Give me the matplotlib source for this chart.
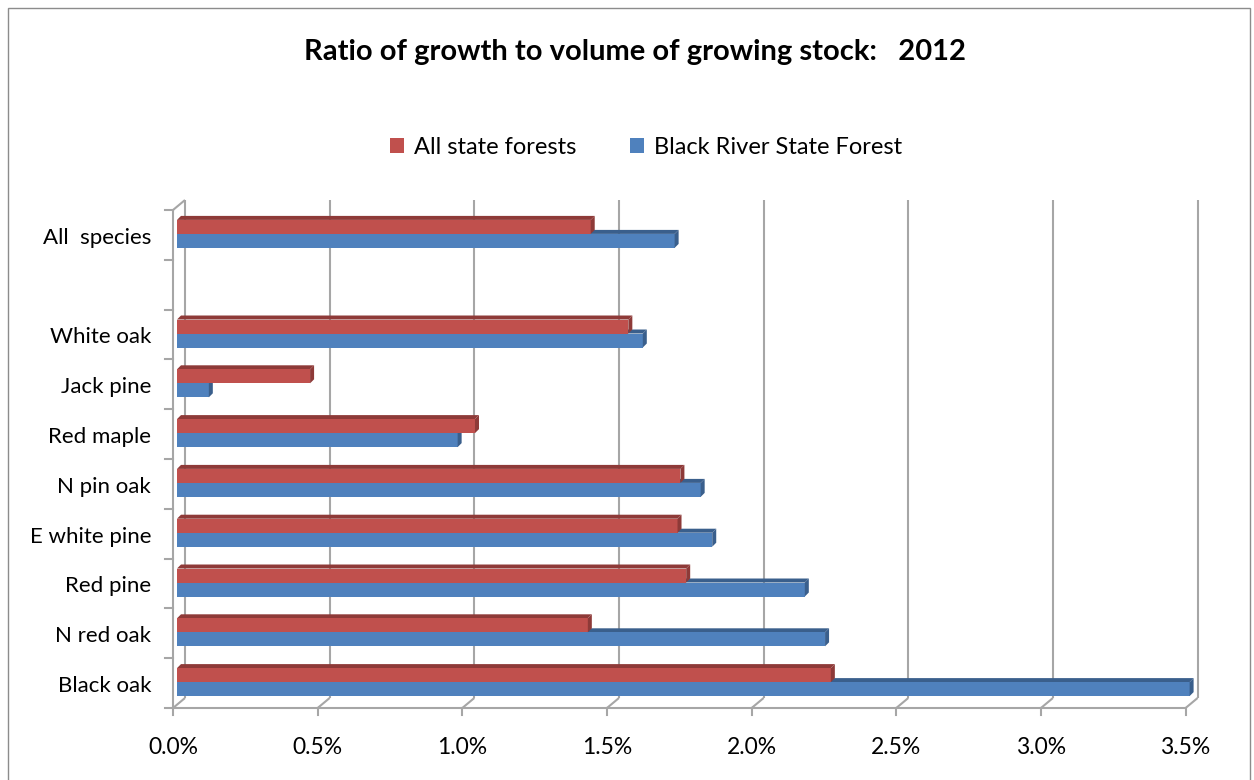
import matplotlib.pyplot as plt
from matplotlib.patches import Polygon, Patch, Rectangle

# species listed bottom to top; blank slot separates the overall figure
categories = ["Black oak", "N red oak", "Red pine", "E white pine", "N pin oak",
              "Red maple", "Jack pine", "White oak", "", "All  species"]
all_state = [2.26, 1.42, 1.76, 1.73, 1.74, 1.03, 0.46, 1.56, None, 1.43]
black_river = [3.50, 2.24, 2.17, 1.85, 1.81, 0.97, 0.11, 1.61, None, 1.72]
x_ticks = [0.0, 0.5, 1.0, 1.5, 2.0, 2.5, 3.0, 3.5]
x_labels = ["0.0%", "0.5%", "1.0%", "1.5%", "2.0%", "2.5%", "3.0%", "3.5%"]

RED, RED_DARK = "#C0504D", "#8E3A38"
BLUE, BLUE_DARK = "#4F81BD", "#3A5F8C"
GRID = "#A6A6A6"
FONT = "Lato"

W, H = 1254, 780
fig = plt.figure(figsize=(W / 100, H / 100), dpi=100)
x0, x1, ytop, ybot = 173, 1185.6, 210, 708
ax = fig.add_axes([x0 / W, 1 - ybot / H, (x1 - x0) / W, (ybot - ytop) / H])
ax.set_xlim(0, 3.5)
ax.set_ylim(-0.5, 9.5)
ax.axis("off")

px_x = 3.5 / (x1 - x0)          # data units per pixel
px_y = 10 / (ybot - ytop)
wall_dx, wall_dy = 12 * px_x, 10 * px_y   # back wall depth
bar_dx, bar_dy = 4 * px_x, 4 * px_y       # bar depth
bar_x0 = 4 * px_x
bar_h = 14 * px_y

def line(xs, ys):
    ax.plot(xs, ys, color=GRID, lw=1.5, clip_on=False, solid_capstyle="butt", zorder=1)

# back wall gridlines and floor edges
for v in x_ticks:
    line([v + wall_dx, v + wall_dx], [-0.5 + wall_dy, 9.5 + wall_dy])
    line([v, v + wall_dx], [-0.5, -0.5 + wall_dy])
line([0, 0], [-0.5, 9.5])
line([0, wall_dx], [9.5, 9.5 + wall_dy])
line([0, 3.5], [-0.5, -0.5])

# tick marks
for v in x_ticks:
    ax.plot([v, v], [-0.5, -0.5 - 7 * px_y], color=GRID, lw=1.5, clip_on=False)
for k in range(11):
    ax.plot([0, -8 * px_x], [k - 0.5, k - 0.5], color=GRID, lw=1.5, clip_on=False)

def bar3d(val, yb, face, dark):
    xs, xe = bar_x0, bar_x0 + val
    yt = yb + bar_h
    top = Polygon([(xs, yt), (xe, yt), (xe + bar_dx, yt + bar_dy), (xs + bar_dx, yt + bar_dy)],
                  closed=True, facecolor=dark, edgecolor="none", zorder=3, clip_on=False)
    front = Rectangle((xs, yb), val, bar_h, facecolor=face, edgecolor="none", zorder=3,
                      clip_on=False)
    side = Polygon([(xe, yb), (xe, yt), (xe + bar_dx, yt + bar_dy), (xe + bar_dx, yb + bar_dy)],
                   closed=True, facecolor=dark, edgecolor="none", zorder=3, clip_on=False)
    for p in (top, front, side):
        ax.add_patch(p)

for i, (r, b) in enumerate(zip(all_state, black_river)):
    if r is None:
        continue
    c = i + 0.02
    bar3d(b, c - bar_h, BLUE, BLUE_DARK)
    bar3d(r, c, RED, RED_DARK)

# tick labels
for v, lab in zip(x_ticks, x_labels):
    ax.text(v, -0.5 - 39 * px_y, lab, ha="center", va="center", fontsize=16.5,
            family=FONT, color="black", clip_on=False)
for i, lab in enumerate(categories):
    ax.text(-22 * px_x, i - 0.06, lab, ha="right", va="center", fontsize=16,
            family=FONT, color="black", clip_on=False)

fig.text(635 / W, 1 - 52 / H, "Ratio of growth to volume of growing stock:   2012",
         ha="center", va="center", fontsize=21, fontweight="bold", family=FONT)

handles = [Patch(facecolor=RED, edgecolor="none", label="All state forests"),
           Patch(facecolor=BLUE, edgecolor="none", label="Black River State Forest")]
fig.legend(handles=handles, loc="center", bbox_to_anchor=(646 / W, 1 - 147 / H), ncol=2,
           frameon=False, prop={"family": FONT, "size": 17}, handlelength=0.6,
           handleheight=0.6, handletextpad=0.4, columnspacing=2.3)

# chart area border
fig.patches.append(Rectangle((8 / W, -0.01), (1250 - 8) / W, 1 - 8 / H + 0.01,
                             transform=fig.transFigure, fill=False, edgecolor="#8C8C8C",
                             lw=1.0))

fig.savefig("out.png", dpi=100)
